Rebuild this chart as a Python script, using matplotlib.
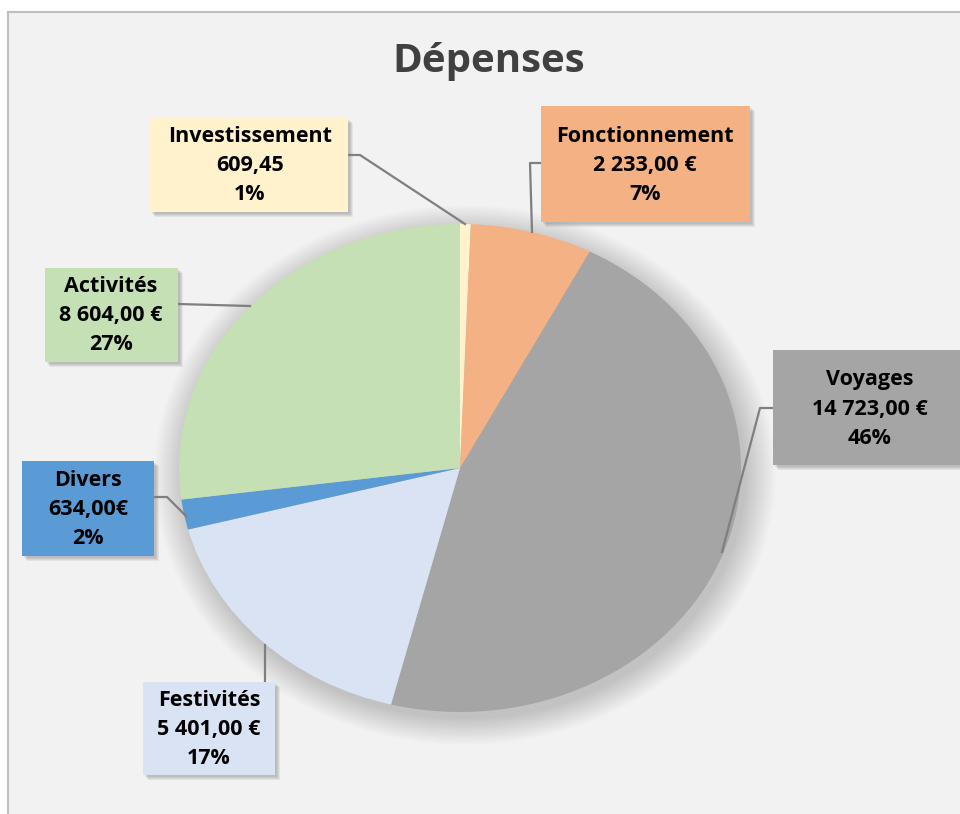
import matplotlib
matplotlib.use("Agg")
import matplotlib.pyplot as plt
from matplotlib.patches import Rectangle, Ellipse

# ---- data ----
categories = ["Investissement", "Fonctionnement", "Voyages", "Festivités", "Divers", "Activités"]
values = [195, 2233, 14723, 5401, 634, 8604]
amount_labels = ["609,45", "2 233,00 €", "14 723,00 €", "5 401,00 €", "634,00€", "8 604,00 €"]
pct_labels = ["1%", "7%", "46%", "17%", "2%", "27%"]
colors = ["#FFF2CC", "#F4B183", "#A5A5A5", "#DAE3F3", "#5B9BD5", "#C5E0B4"]
title = "Dépenses"

# ---- layout (pixels) ----
W, H = 960, 814
cx, cy, rx, ry = 460, 468, 281, 244
# label box: (x0, y0, x1, y1)
boxes = [(150, 118, 348, 212), (541, 106, 750, 222), (773, 350, 975, 465),
         (143, 682, 275, 775), (22, 461, 154, 556), (45, 268, 178, 362)]
text_centers = [(250, 166), (645, 165), (870, 409), (209, 729), (88, 509), (111, 316)]
leaders = [[(348, 155), (360, 155), (465, 224)],
           [(541, 163), (530, 163), (532, 232)],
           [(773, 408), (760, 408), (722, 552)],
           [(265, 682), (265, 645)],
           [(154, 497), (167, 497), (186, 516)],
           [(178, 304), (250, 306)]]

plt.rcParams['font.family'] = ['Open Sans', 'DejaVu Sans']
fig = plt.figure(figsize=(W / 100, H / 100), dpi=100)
fig.patch.set_facecolor("white")

bg = fig.add_axes([0, 0, 1, 1])
bg.set_xlim(0, W)
bg.set_ylim(H, 0)
bg.axis("off")
bg.add_patch(Rectangle((8, 12), 1000, 900, facecolor="#F2F2F2", edgecolor="#BFBFBF", lw=1.5, zorder=0))

# soft pie shadow
for i in range(16):
    k = 1 + i * 0.007
    bg.add_patch(Ellipse((cx + 5, cy + 7), 2 * rx * k, 2 * ry * k,
                         facecolor="#000000", alpha=0.013, lw=0, zorder=1))

pax = fig.add_axes([(cx - rx) / W, 1 - (cy + ry) / H, 2 * rx / W, 2 * ry / H])
pax.set_zorder(2)
pax.patch.set_alpha(0)
pax.pie(values, colors=colors, startangle=90, counterclock=False,
        wedgeprops=dict(linewidth=0))
pax.set_aspect("auto")
pax.set_xlim(-1, 1)
pax.set_ylim(-1, 1)
pax.axis("off")

ov = fig.add_axes([0, 0, 1, 1])
ov.set_zorder(3)
ov.patch.set_alpha(0)
ov.set_xlim(0, W)
ov.set_ylim(H, 0)
ov.axis("off")

ov.text(489, 72, title, ha="center", va="baseline", fontsize=29, fontweight="bold", color="#404040")

for i, cat in enumerate(categories):
    x0, y0, x1, y1 = boxes[i]
    for s in range(4):
        ov.add_patch(Rectangle((x0 + 2 + s, y0 + 2 + s), x1 - x0, y1 - y0,
                               facecolor="black", alpha=0.06, lw=0, zorder=1))
    ov.add_patch(Rectangle((x0, y0), x1 - x0, y1 - y0, facecolor=colors[i], lw=0, zorder=2))
    tx, ty = text_centers[i]
    ov.text(tx, ty, f"{cat}\n{amount_labels[i]}\n{pct_labels[i]}", ha="center", va="center",
            fontsize=15.5, fontweight="bold", color="black", linespacing=1.5, zorder=3)
    xs = [p[0] for p in leaders[i]]
    ys = [p[1] for p in leaders[i]]
    ov.plot(xs, ys, color="#7F7F7F", lw=1.6, zorder=1.5)

fig.savefig("out.png", dpi=100)
